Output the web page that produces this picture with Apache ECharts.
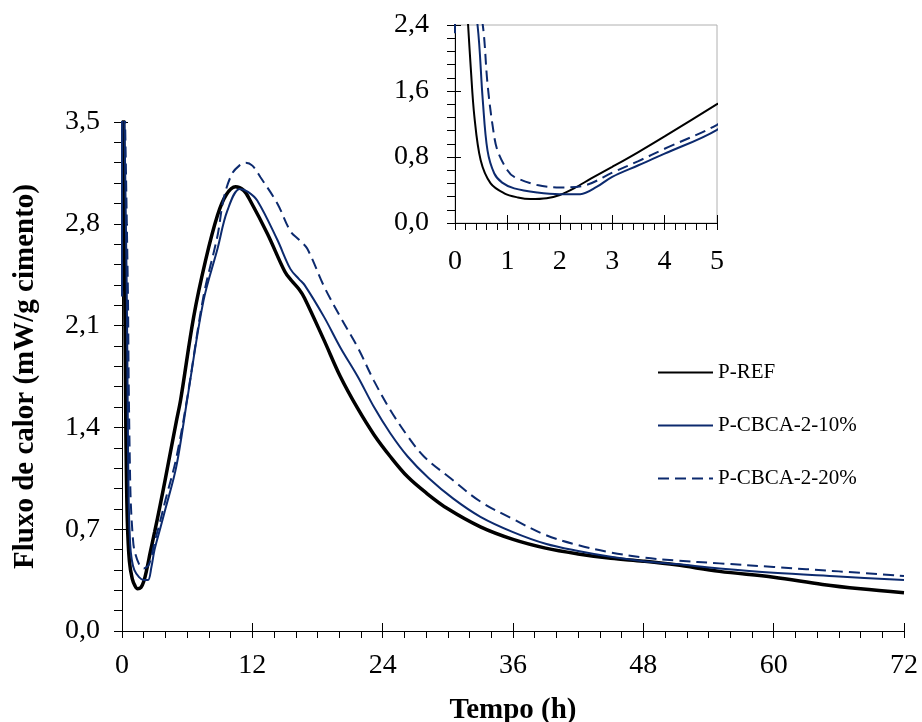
<!DOCTYPE html>
<html>
<head>
<meta charset="utf-8">
<script src="https://cdn.jsdelivr.net/npm/echarts@6/dist/echarts.min.js"></script>
<style>
  html, body { margin: 0; padding: 0; background: #fff; }
  #chart { width: 922px; height: 722px; }
</style>
</head>
<body>
<div id="chart"></div>
<script>
    // tempo (h) e fluxo de calor (mW/g cimento)
    var refT = [0.05, 0.25, 0.30, 0.37, 0.49, 0.68, 0.94, 1.20, 1.44, 1.75, 2.0, 2.27, 2.6, 3.0, 3.5, 4.0, 5.0, 5.4, 6.6, 7.7, 8.8, 9.6, 10.45, 11.2, 11.8, 13.4, 15.0, 15.6, 16.3, 16.8, 18.6, 20.1, 21.7, 23.2, 24.7, 26.3, 28.0, 30.0, 33.0, 36.0, 39.0, 42.0, 45.0, 48.0, 51.0, 55.0, 60.0, 64.5, 68.0, 72.0];
    var refQ = [4.5, 2.4, 1.89, 1.29, 0.76, 0.48, 0.36, 0.31, 0.29, 0.30, 0.34, 0.42, 0.54, 0.68, 0.86, 1.05, 1.44, 1.59, 2.16, 2.55, 2.86, 3.00, 3.055, 3.03, 2.96, 2.73, 2.47, 2.41, 2.35, 2.29, 2.00, 1.75, 1.53, 1.35, 1.20, 1.06, 0.95, 0.84, 0.716, 0.63, 0.57, 0.53, 0.50, 0.48, 0.455, 0.41, 0.37, 0.32, 0.29, 0.263];

    var c10T = [0, 0.02, 0.43, 0.53, 0.62, 0.75, 0.9, 1.13, 1.57, 2.0, 2.39, 2.71, 3.0, 3.5, 4.0, 5.0, 6.0, 7.5, 8.8, 9.7, 10.85, 11.6, 12.45, 14.3, 15.5, 16.3, 16.8, 18.6, 20.1, 21.7, 23.2, 24.7, 26.3, 28.25, 30.5, 33.0, 36.0, 39.0, 42.0, 45.0, 48.0, 51.0, 55.0, 60.0, 66.0, 72.0];
    var c10Q = [2.3, 4.5, 2.4, 1.49, 0.88, 0.60, 0.49, 0.42, 0.37, 0.35, 0.35, 0.44, 0.56, 0.70, 0.84, 1.13, 1.59, 2.27, 2.63, 2.89, 3.04, 3.02, 2.96, 2.69, 2.49, 2.42, 2.38, 2.16, 1.95, 1.75, 1.54, 1.36, 1.20, 1.05, 0.91, 0.785, 0.68, 0.60, 0.55, 0.51, 0.48, 0.46, 0.43, 0.40, 0.375, 0.35];

    var c20T = [0.05, 0.53, 0.62, 0.72, 0.81, 1.0, 1.13, 1.57, 2.0, 2.5, 3.0, 3.5, 4.0, 5.0, 6.0, 7.5, 8.8, 9.35, 10.1, 10.8, 11.4, 12.0, 12.75, 14.3, 15.5, 16.3, 17.05, 18.6, 20.1, 21.7, 23.2, 24.7, 26.3, 27.8, 30.25, 33.0, 36.0, 39.0, 42.0, 45.0, 48.0, 51.0, 55.0, 60.0, 66.0, 72.0];
    var c20Q = [4.5, 2.4, 1.69, 1.17, 0.88, 0.64, 0.56, 0.46, 0.43, 0.46, 0.61, 0.75, 0.90, 1.19, 1.60, 2.30, 2.72, 2.97, 3.14, 3.20, 3.22, 3.20, 3.12, 2.94, 2.75, 2.69, 2.63, 2.37, 2.16, 1.95, 1.72, 1.52, 1.34, 1.20, 1.05, 0.89, 0.77, 0.66, 0.59, 0.54, 0.505, 0.485, 0.465, 0.44, 0.41, 0.378];

    var names = ['P-REF', 'P-CBCA-2-10%', 'P-CBCA-2-20%'];
    var navy = '#0c2a6e';
    var serif = 'Liberation Serif';

    function pairs(t, q)
    {
        var out = [];
        for (var i = 0; i < t.length; i++)
            out.push([t[i], q[i]]);
        return out;
    }
    function comma(v)
    {
        return v.toFixed(1).replace('.', ',');
    }

    var refData = pairs(refT, refQ);
    var c10Data = pairs(c10T, c10Q);
    var c20Data = pairs(c20T, c20Q);

    // eixo principal + eixo "sombra" so com os tracos que cruzam a linha
    function xAx(grid, max, interval, minorSplit, margin, withName)
    {
        return {
            type: 'value', gridIndex: grid, position: 'bottom',
            min: 0, max: max, interval: interval,
            axisLine: { show: true, onZero: false, lineStyle: { color: '#000', width: 1 } },
            axisTick: { show: true, inside: false, length: 7, lineStyle: { color: '#000' } },
            minorTick: { show: true, splitNumber: minorSplit, length: 7, lineStyle: { color: '#000' } },
            splitLine: { show: false },
            axisLabel: { fontFamily: serif, fontSize: 28, color: '#000', margin: margin },
            name: withName ? 'Tempo (h)' : '',
            nameLocation: 'middle', nameGap: 65,
            nameTextStyle: { fontFamily: serif, fontSize: 29, fontWeight: 'bold', color: '#000' }
        };
    }
    function xShadow(grid, max, interval)
    {
        return {
            type: 'value', gridIndex: grid, position: 'bottom',
            min: 0, max: max, interval: interval,
            axisLine: { show: false },
            axisTick: { show: true, inside: true, length: 8, lineStyle: { color: '#000' } },
            axisLabel: { show: false }, splitLine: { show: false }
        };
    }
    function yAx(grid, max, interval, margin, withName)
    {
        return {
            type: 'value', gridIndex: grid, position: 'left',
            min: 0, max: max, interval: interval,
            axisLine: { show: true, onZero: false, lineStyle: { color: '#000', width: 1 } },
            axisTick: { show: true, inside: false, length: 8, lineStyle: { color: '#000' } },
            minorTick: { show: true, splitNumber: 5, length: 8, lineStyle: { color: '#000' } },
            splitLine: { show: false },
            axisLabel: { fontFamily: serif, fontSize: 28, color: '#000', margin: margin, formatter: comma },
            name: withName ? 'Fluxo de calor (mW/g cimento)' : '',
            nameLocation: 'middle', nameGap: 82,
            nameTextStyle: { fontFamily: serif, fontSize: 29, fontWeight: 'bold', color: '#000' }
        };
    }
    function yShadow(grid, max, interval)
    {
        return {
            type: 'value', gridIndex: grid, position: 'left',
            min: 0, max: max, interval: interval,
            axisLine: { show: false },
            axisTick: { show: true, inside: true, length: 6, lineStyle: { color: '#000' } },
            axisLabel: { show: false }, splitLine: { show: false }
        };
    }

    function line(name, data, xi, yi, color, width, dash)
    {
        return {
            name: name, type: 'line', data: data,
            xAxisIndex: xi, yAxisIndex: yi,
            symbol: 'none', showSymbol: false,
            smooth: 0.35, clip: true,
            lineStyle: { color: color, width: width, type: dash ? [11, 6] : 'solid' },
            itemStyle: { color: color, opacity: 0 }
        };
    }

    var myChart = echarts.init(document.getElementById('chart'), null, { renderer: 'canvas' });
    myChart.setOption({
        animation: false,
        backgroundColor: '#fff',
        grid: [
            { left: 122, right: 18, top: 122, bottom: 91, outerBoundsMode: 'none', containLabel: false },
            { left: 455, top: 25, width: 262, height: 198, show: true, outerBoundsMode: 'none', containLabel: false,
              borderColor: '#b0b0b0', borderWidth: 1, backgroundColor: '#fff' }
        ],
        legend: {
            data: names,
            orient: 'vertical',
            left: 652, top: 357,
            itemWidth: 55, itemHeight: 14, itemGap: 32,
            itemStyle: { opacity: 0 },
            textStyle: { fontFamily: serif, fontSize: 21, color: '#000' }
        },
        xAxis: [
            xAx(0, 72, 12, 6, 21, true),
            xShadow(0, 72, 12),
            xAx(1, 5, 1, 5, 25, false),
            xShadow(1, 5, 1)
        ],
        yAxis: [
            yAx(0, 3.5, 0.7, 22, true),
            yShadow(0, 3.5, 0.7),
            yAx(1, 2.4, 0.8, 26, false),
            yShadow(1, 2.4, 0.8)
        ],
        series: [
            line(names[0], refData, 0, 0, '#000', 3.5, false),
            line(names[1], c10Data, 0, 0, navy, 2, false),
            line(names[2], c20Data, 0, 0, navy, 2, true),
            line(names[0], refData, 2, 2, '#000', 2, false),
            line(names[1], c10Data, 2, 2, navy, 2, false),
            line(names[2], c20Data, 2, 2, navy, 2, true)
        ]
    });
</script>
</body>
</html>
